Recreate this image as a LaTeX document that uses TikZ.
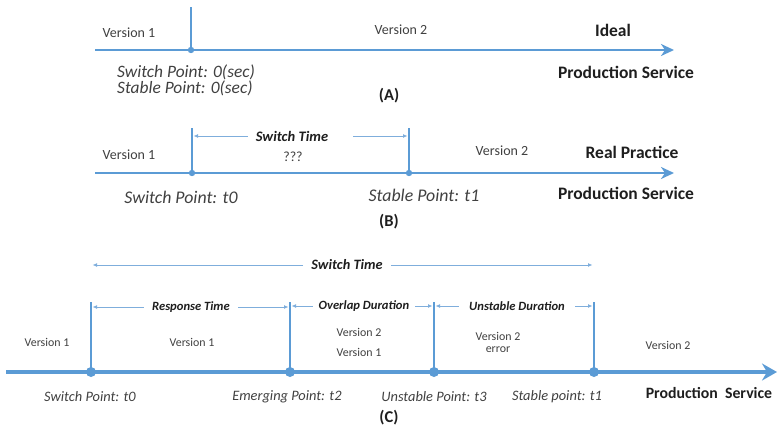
\documentclass[tikz,border=0pt]{standalone}
\usepackage{fontspec}
\setmainfont{Carlito}
\usetikzlibrary{arrows.meta}
\definecolor{line}{HTML}{5B9BD5}
\definecolor{spanc}{HTML}{7FAEDC}
\definecolor{ink}{HTML}{1E1E1E}
\definecolor{grey}{HTML}{404040}

\tikzset{
  axisab/.style={line,line width=2.6pt,-{Stealth[length=13pt,width=12pt,inset=4pt]}},
  axisc/.style={line,line width=4pt,-{Stealth[length=15pt,width=17pt,inset=5pt]}},
  tickab/.style={line,line width=1.5pt},
  tickc/.style={line,line width=2.2pt},
  span/.style={spanc,line width=0.9pt,-{Latex[length=4.5pt,width=4pt]},shorten >=1.5pt},
  ver/.style={text=grey,inner sep=0pt},
  pnt/.style={text=grey,font=\itshape\fontsize{14.4}{15}\selectfont,inner sep=0pt},
  ttl/.style={text=ink,font=\bfseries\fontsize{17.5}{19}\selectfont,inner sep=0pt},
  captxt/.style={text=ink,font=\bfseries\fontsize{16.5}{18}\selectfont,inner sep=0pt},
  ivl/.style={text=ink,font=\bfseries\itshape\fontsize{14.3}{15}\selectfont,inner xsep=8pt,inner ysep=0pt},
  ivls/.style={ivl,font=\bfseries\itshape\fontsize{12.6}{14}\selectfont}
}

\begin{document}
\begin{tikzpicture}[x=1pt,y=-1pt]
  \useasboundingbox (0,0) rectangle (777,431);

  % (A) ideal
  \begin{scope}[font=\fontsize{14}{16}\selectfont]
    \coordinate (a-s) at (95,50);
    \coordinate (a-e) at (674,50);
    \coordinate (a-t0) at (191,50);
    \coordinate (a-t0u) at (191,7);
    \draw[axisab] (a-s) -- (a-e);
    \draw[tickab] (a-t0) -- (a-t0u);
    \fill[line] (a-t0) circle (3.2pt);
    \node[ver] (a-v1) at (129,33) {Version 1};
    \node[ver] (a-v2) at (401,30) {Version 2};
    \node[ttl] (a-ideal) at (613,30) {Ideal};
    \node[ttl] (a-prod) at (626,72) {Production Service};
    \node[pnt,font=\itshape\fontsize{17.4}{15}\selectfont,align=left,anchor=west]
      (a-pts) at (117,80.5) {Switch Point: 0(sec)\\Stable Point: 0(sec)};
    \node[captxt] (a-cap) at (389,96) {(A)};
  \end{scope}

  % (B) real practice
  \begin{scope}[font=\fontsize{14}{16}\selectfont]
    \coordinate (b-s) at (95,173);
    \coordinate (b-e) at (674,173);
    \coordinate (b-t0) at (192,173);
    \coordinate (b-t0u) at (192,128);
    \coordinate (b-t1) at (409,173);
    \coordinate (b-t1u) at (409,128);
    \draw[axisab] (b-s) -- (b-e);
    \draw[tickab] (b-t0) -- (b-t0u);
    \draw[tickab] (b-t1) -- (b-t1u);
    \fill[line] (b-t0) circle (3.2pt) (b-t1) circle (3.2pt);
    \node[ivl,font=\bfseries\itshape\fontsize{14.5}{15}\selectfont] (b-sw) at (292,136) {Switch Time};
    \draw[span] (b-sw.west) -- (b-sw.west -| b-t0);
    \draw[span,shorten <=17pt] (b-sw.east) -- (b-sw.east -| b-t1);
    \node[ver] (b-q) at (293,157) {???};
    \node[ver] (b-v1) at (129,155) {Version 1};
    \node[ver] (b-v2) at (502,151) {Version 2};
    \node[ttl] (b-real) at (632,152) {Real Practice};
    \node[ttl] (b-prod) at (626,193) {Production Service};
    \node[pnt,font=\itshape\fontsize{17.8}{18}\selectfont] (b-p0) at (181,197) {Switch Point: t0};
    \node[pnt,font=\itshape\fontsize{17.8}{18}\selectfont] (b-p1) at (424,195) {Stable Point: t1};
    \node[captxt] (b-cap) at (389,222) {(B)};
  \end{scope}

  % (C) phases of the switch
  \begin{scope}[font=\fontsize{11.9}{13}\selectfont]
    \coordinate (c-s) at (6,372);
    \coordinate (c-e) at (777,372);
    \draw[axisc] (c-s) -- (c-e);
    \foreach \n/\x in {t0/91,t2/290,t3/434,t1/594} {
      \coordinate (c-\n) at (\x,372);
      \coordinate (c-\n u) at (\x,302);
      \draw[tickc] (c-\n) -- (c-\n u);
      \fill[line] (c-\n) circle (5pt);
    }
    \node[ivl] (c-sw) at (347,265) {Switch Time};
    \draw[span] (c-sw.west) -- (c-sw.west -| c-t0);
    \draw[span] (c-sw.east) -- (c-sw.east -| c-t1);
    \node[ivls] (c-rt) at (191,307) {Response Time};
    \draw[span] (c-rt.west) -- (c-rt.west -| c-t0);
    \draw[span] (c-rt.east) -- (c-rt.east -| c-t2);
    \node[ivls,inner xsep=6pt] (c-ov) at (364,306) {Overlap Duration};
    \draw[span] (c-ov.west) -- (c-ov.west -| c-t2);
    \draw[span] (c-ov.east) -- (c-ov.east -| c-t3);
    \node[ivls,inner xsep=10pt] (c-un) at (517,306) {Unstable Duration};
    \draw[span] (c-un.west) -- (c-un.west -| c-t3);
    \draw[span] (c-un.east) -- (c-un.east -| c-t1);
    \node[ver] (c-v1a) at (47,342) {Version 1};
    \node[ver] (c-v1b) at (192,342) {Version 1};
    \node[ver] (c-v2a) at (359,332) {Version 2};
    \node[ver] (c-v1c) at (359,352) {Version 1};
    \node[ver] (c-v2b) at (498,336) {Version 2};
    \node[ver] (c-err) at (498,350) {error};
    \node[ver] (c-v2c) at (668,345) {Version 2};
    \node[pnt] (c-p0) at (90,397) {Switch Point: t0};
    \node[pnt] (c-p2) at (287,397) {Emerging Point: t2};
    \node[pnt] (c-p3) at (434,397) {Unstable Point: t3};
    \node[pnt] (c-p1) at (557,397) {Stable point: t1};
    \node[ttl,font=\bfseries\fontsize{15.8}{17}\selectfont] (c-prod) at (709,393) {Production\ \ Service};
    \node[captxt] (c-cap) at (389,418) {(C)};
  \end{scope}
\end{tikzpicture}
\end{document}
